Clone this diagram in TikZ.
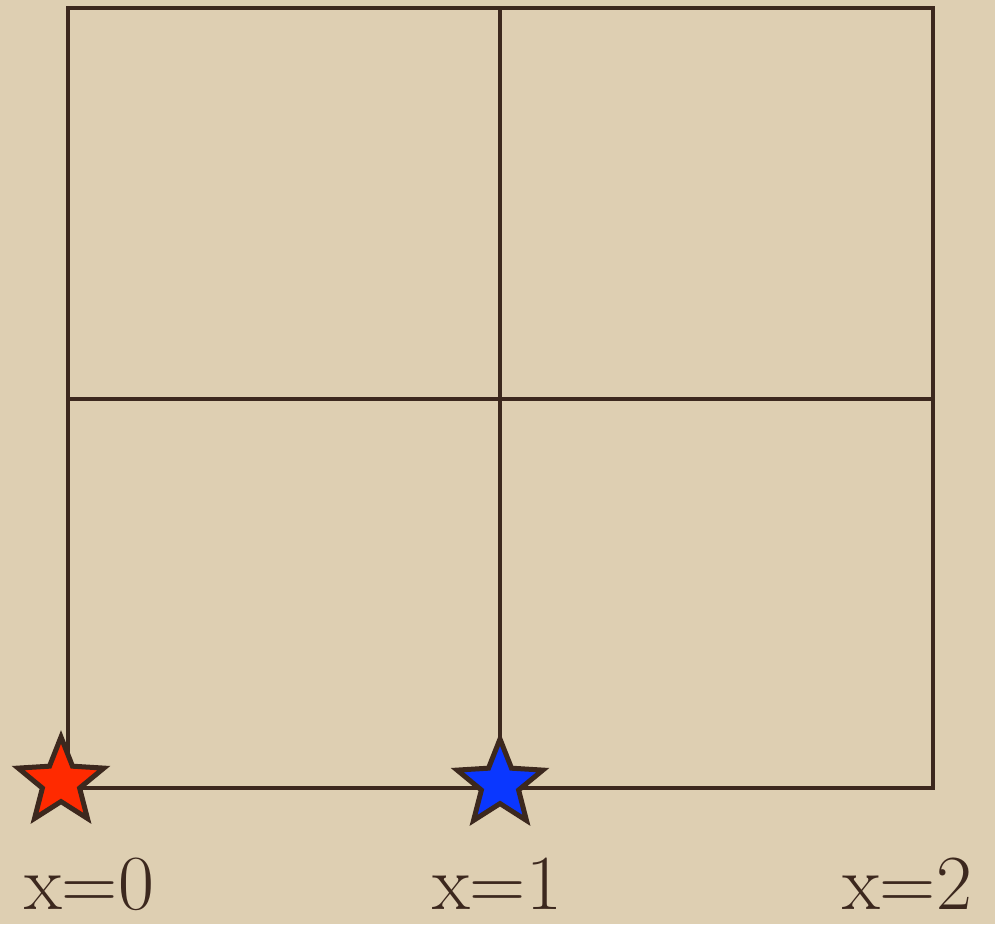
\documentclass[tikz,border=0pt]{standalone}
\usetikzlibrary{shapes.geometric}
\definecolor{parch}{RGB}{222,207,178}
\definecolor{ink}{RGB}{60,40,30}
\definecolor{starred}{RGB}{255,42,0}
\definecolor{starblue}{RGB}{10,55,255}
\tikzset{
  gridline/.style={draw=ink,line width=3.8pt},
  mystar/.style={star,star points=5,star point ratio=2.3,draw=ink,line width=5pt,minimum size=90pt,inner sep=0pt,line join=miter},
  lbl/.style={text=ink,font=\fontsize{78}{86}\selectfont,anchor=base,inner sep=0pt}
}
\begin{document}
\begin{tikzpicture}[x=1pt,y=1pt]
\fill[parch] (0,0) rectangle (995,-924);
\useasboundingbox (0,0) rectangle (995,-924);
\coordinate (tl) at (68,-8);
\coordinate (tm) at (500,-8);
\coordinate (tr) at (933,-8);
\coordinate (ml) at (68,-399);
\coordinate (mr) at (933,-399);
\coordinate (bl) at (68,-788);
\coordinate (bm) at (500,-788);
\coordinate (br) at (933,-788);
\draw[gridline] (tl) rectangle (br);
\draw[gridline] (tm) -- (bm);
\draw[gridline] (ml) -- (mr);
\node[mystar,fill=starred] (s0) at (61,-782) {};
\node[mystar,fill=starblue] (s1) at (500,-784) {};
\node[lbl] (l0) at (89,-909) {x=0};
\node[lbl] (l1) at (497,-909) {x=1};
\node[lbl] (l2) at (907,-909) {x=2};
\end{tikzpicture}
\end{document}
